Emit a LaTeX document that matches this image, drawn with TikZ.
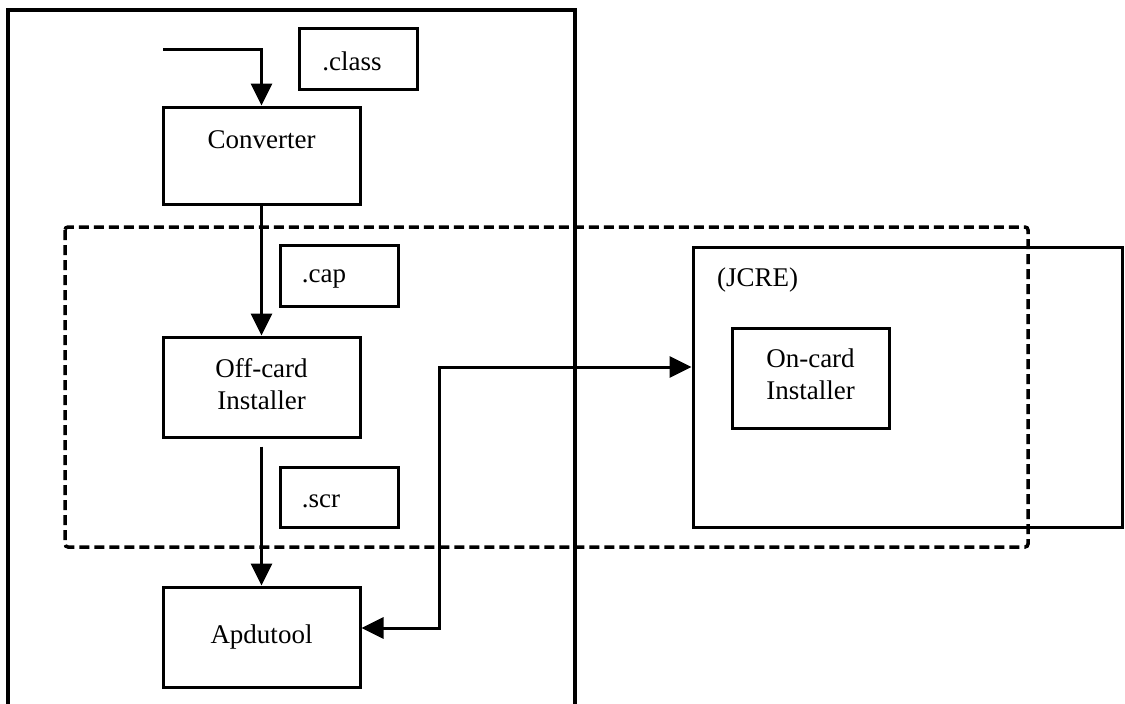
\documentclass[tikz,border=0pt]{standalone}
\usepackage{fontspec}
\setmainfont{Liberation Serif}
\usetikzlibrary{arrows.meta}

\tikzset{
  box/.style={draw, line width=3pt, inner sep=0pt},
  txt/.style={inner sep=0pt, font=\fontsize{27}{32}\selectfont, align=center},
  flow/.style={line width=3pt, -{Triangle[length=22pt,width=21pt]}},
  twoway/.style={line width=3pt, {Triangle[length=22pt,width=21pt]}-{Triangle[length=22pt,width=21pt]}},
  zone/.style={line width=3.5pt, dash pattern=on 10pt off 5pt, rounded corners=3pt},
  frame/.style={line width=3.2pt}
}

\begin{document}
\begin{tikzpicture}[x=1pt, y=-1pt]
  \useasboundingbox (0,0) rectangle (1125,704);

  % off-card frame (open at the bottom edge)
  \draw[frame] (8,720) -- (8,10) -- (575,10) -- (575,720);

  % card runtime environment
  \node[box, minimum width=429pt, minimum height=280pt] (jcre) at (907.5,387) {};
  \node[txt, anchor=west] (jcrelbl) at (717,280) {(JCRE)};
  \node[box, minimum width=157pt, minimum height=100pt] (onc) at (810.5,378) {};
  \node[txt] (onctxt) at ([yshift=4pt]onc.center) {On-card\\Installer};

  % tool chain
  \node[box, minimum width=118pt, minimum height=61pt] (cls) at (358,58.5) {};
  \node[txt] (clstxt) at (352,61) {.class};

  \node[box, minimum width=197pt, minimum height=97pt] (conv) at (261.5,155.5) {};
  \node[txt] (convtxt) at (261.5,140) {Converter};

  \node[box, minimum width=118pt, minimum height=61pt] (cap) at (339,275.5) {};
  \node[txt] (captxt) at (324,279) {.cap};

  \node[box, minimum width=197pt, minimum height=100pt] (off) at (261.5,387) {};
  \node[txt] (offtxt) at ([yshift=3pt]off.center) {Off-card\\Installer};

  \node[box, minimum width=118pt, minimum height=60pt] (scr) at (339,497) {};
  \node[txt] (scrtxt) at (321,501) {.scr};

  \node[box, minimum width=197pt, minimum height=100pt] (apdu) at (261.5,637) {};
  \node[txt] (apdutxt) at (apdu.center) {Apdutool};

  % installation zone
  \draw[zone] (65,227) rectangle (1028,547);

  % connectors
  \coordinate (src) at (163,49);
  \draw[flow] (src) -| (conv.north);
  \draw[flow] (conv.south) -- (off.north);
  \draw[flow] ([yshift=-8pt]off.south) -- (apdu.north);
  \draw[twoway] ([yshift=9pt]apdu.east) -- ++(78,0) |- ([yshift=20pt]jcre.west);
\end{tikzpicture}
\end{document}
